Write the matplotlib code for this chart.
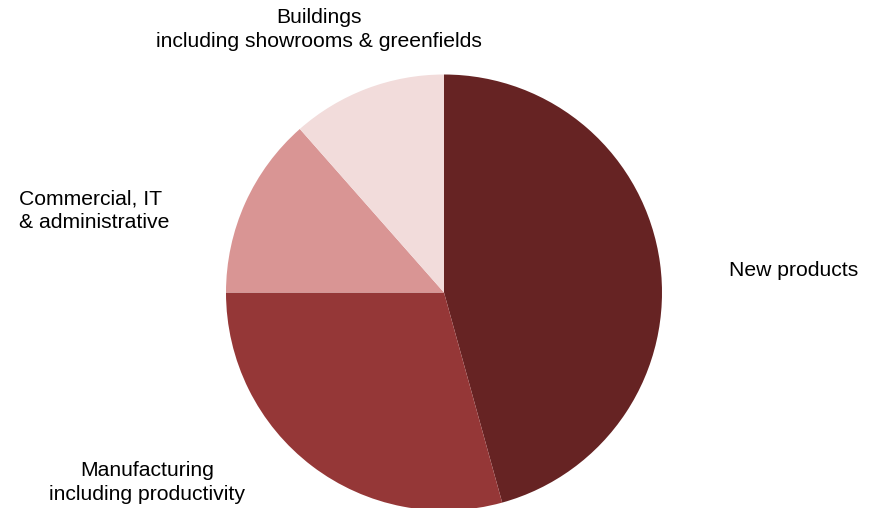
import matplotlib
matplotlib.use("Agg")
import matplotlib.pyplot as plt

plt.rcParams['font.family'] = ['Liberation Sans', 'DejaVu Sans']

categories = ["New products", "Manufacturing\nincluding productivity",
              "Commercial, IT\n& administrative",
              "Buildings\nincluding showrooms & greenfields"]
shares = [45.7, 29.3, 13.5, 11.5]
colors = ["#662323", "#953737", "#d99594", "#f2dcdb"]

W, H = 869, 508
fig = plt.figure(figsize=(W / 100, H / 100), dpi=100)
ax = fig.add_axes([0, 0, 1, 1])

cx, cy, r = 444, H - 292.5, 218
ax.pie(shares, colors=colors, startangle=90, counterclock=False,
       center=(cx, cy), radius=r, frame=True,
       wedgeprops=dict(linewidth=0))
ax.set_xlim(0, W)
ax.set_ylim(0, H)
ax.set_aspect('equal')
ax.axis('off')

fs = 15.2
ls = 1.27
# label placements in pixel space (x, y measured from the top)
ax.text(729, H - 270, categories[0], fontsize=fs, ha='left', va='center')
ax.text(147, H - 482.5, categories[1], fontsize=fs, ha='center', va='center',
        linespacing=ls)
ax.text(19, H - 210.5, categories[2], fontsize=fs, ha='left', va='center',
        linespacing=ls)
ax.text(319, H - 29.5, categories[3], fontsize=fs, ha='center', va='center',
        linespacing=ls)

fig.savefig("out.png", dpi=100)
